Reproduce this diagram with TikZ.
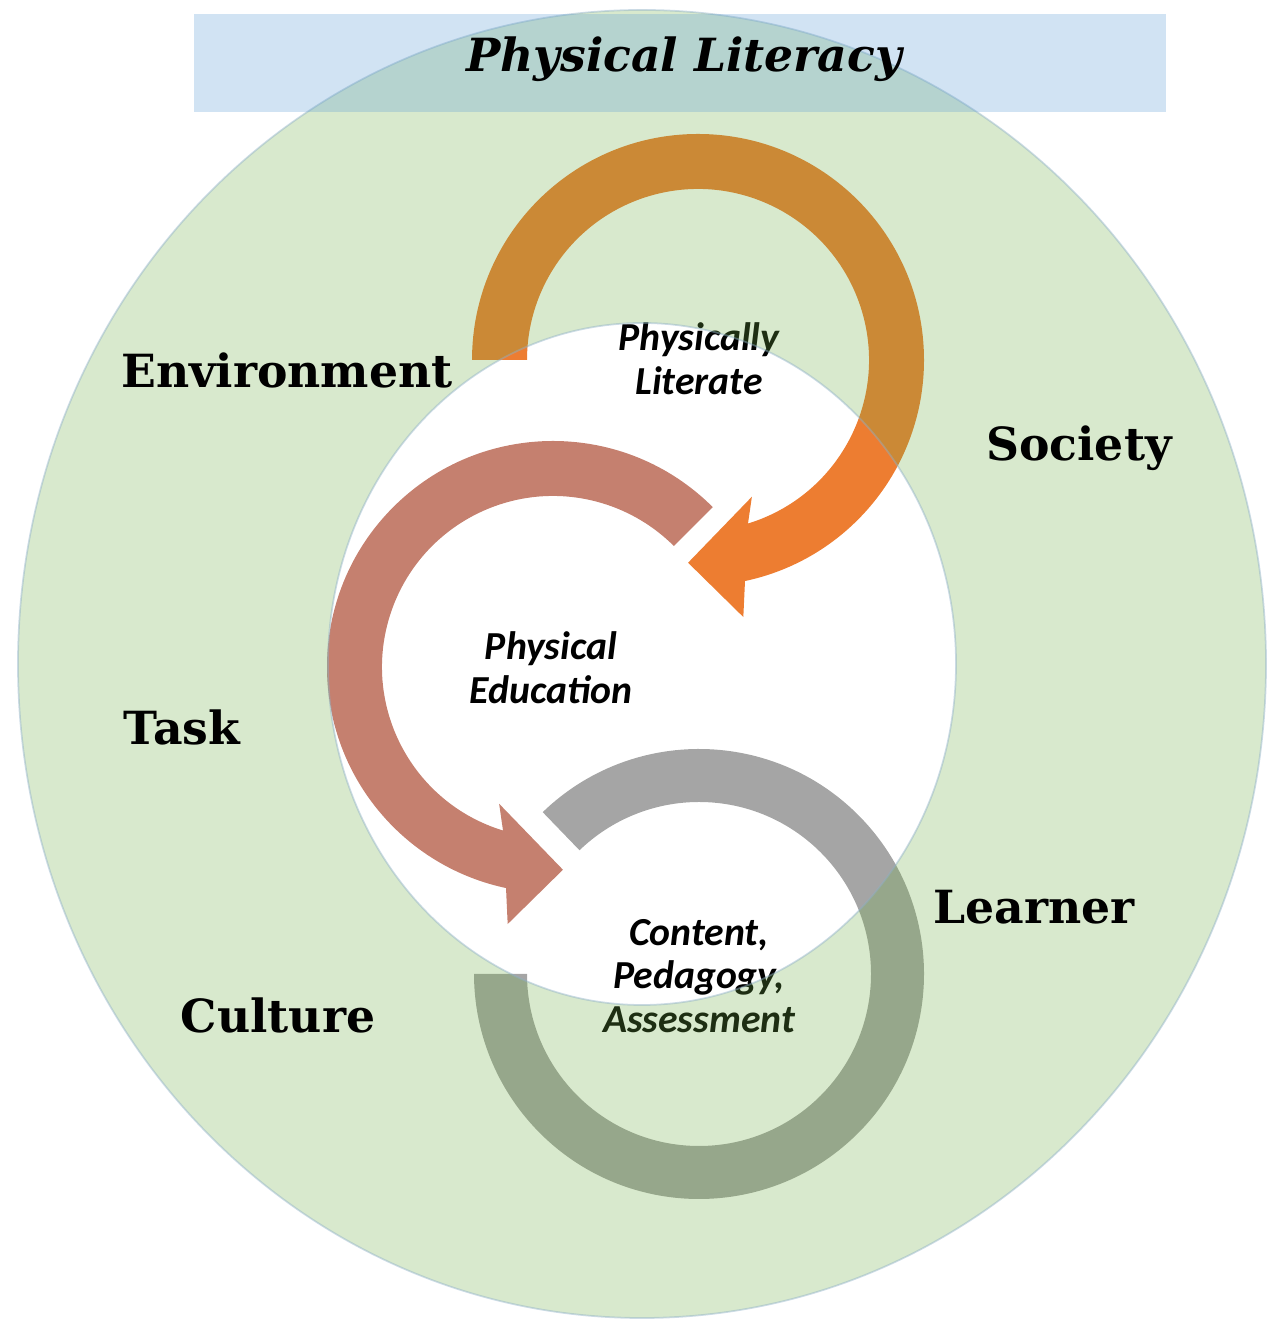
\documentclass[tikz,border=0pt]{standalone}
\usepackage{fontspec}
\setmainfont{DejaVu Serif}
\newfontfamily\corefont{Carlito}
\usepackage{tikz}
\usetikzlibrary{calc}

\definecolor{plgreen}{HTML}{70AD47}
\definecolor{plblue}{HTML}{5B9BD5}
\definecolor{plorange}{HTML}{ED7D31}
\definecolor{plrose}{HTML}{C5806F}
\definecolor{plgray}{HTML}{A5A5A5}
\definecolor{pledge}{HTML}{8FB0C8}

\tikzset{
  ringlabel/.style={font=\fontsize{13}{15}\selectfont\bfseries,
                    text=black, inner sep=0pt, anchor=base},
  corelabel/.style={font=\corefont\fontsize{11.3}{12.4}\selectfont\bfseries\itshape,
                    text=black, inner sep=0pt, align=center}
}

\begin{document}
\begin{tikzpicture}

  \useasboundingbox (0,0) rectangle (12.66,13.20);

  %% Centres of the ellipses and of the three loops
  \coordinate (mid)   at (6.42,6.56);
  \coordinate (topc)  at (6.98,9.60);
  \coordinate (leftc) at (5.53,6.53);
  \coordinate (lowc)  at (6.99,3.46);

  %% Orange loop, clockwise
  \fill[plorange] ($(topc)+(180:2.26)$) arc[start angle=180, end angle=-78, radius=2.26]
    -- ($(topc)+(-80:2.61)$) -- ($(topc)+(-92.8:2.03)$) -- ($(topc)+(-68.5:1.47)$)
    -- ($(topc)+(-73:1.71)$) arc[start angle=-73, end angle=180, radius=1.71] -- cycle;

  %% Rose loop, counter-clockwise
  \fill[plrose] ($(leftc)+(45:2.26)$) arc[start angle=45, end angle=258, radius=2.26]
    -- ($(leftc)+(260:2.61)$) -- ($(leftc)+(272.8:2.03)$) -- ($(leftc)+(248.5:1.47)$)
    -- ($(leftc)+(253:1.71)$) arc[start angle=253, end angle=45, radius=1.71] -- cycle;

  %% Grey open ring
  \fill[plgray] ($(lowc)+(134:2.25)$) arc[start angle=134, end angle=-180, radius=2.25]
    -- ($(lowc)+(180:1.72)$) arc[start angle=-180, end angle=134, radius=1.72] -- cycle;

  %% Texts inside the loops
  \node[corelabel] (lit) at (6.99,9.615) {Physically\\Literate};
  \node[corelabel] (pe)  at (5.51,6.525) {Physical\\Education};
  \node[corelabel] (cpa) at (6.99,3.44)  {Content,\\Pedagogy,\\Assessment};

  %% Green band between the two ellipses
  \fill[plgreen, fill opacity=0.27, even odd rule]
    (mid) ellipse[x radius=6.24, y radius=6.54]
    (mid) ellipse[x radius=3.14, y radius=3.41];
  \draw[pledge, line width=0.5pt, draw opacity=0.45]
    (mid) ellipse[x radius=6.24, y radius=6.54]
    (mid) ellipse[x radius=3.14, y radius=3.41];

  %% Title band
  \fill[plblue, fill opacity=0.28] (1.94,12.08) rectangle (11.66,13.06);
  \node[ringlabel, font=\fontsize{13}{15}\selectfont\bfseries\itshape]
    (title) at (6.84,12.48) {Physical Literacy};

  %% Labels in the green band
  \node[ringlabel] (env)     at (2.87,9.32) {Environment};
  \node[ringlabel] (society) at (10.79,8.59) {Society};
  \node[ringlabel] (task)    at (1.82,5.75) {Task};
  \node[ringlabel] (learner) at (10.34,3.96) {Learner};
  \node[ringlabel] (culture) at (2.78,2.87) {Culture};

\end{tikzpicture}
\end{document}
